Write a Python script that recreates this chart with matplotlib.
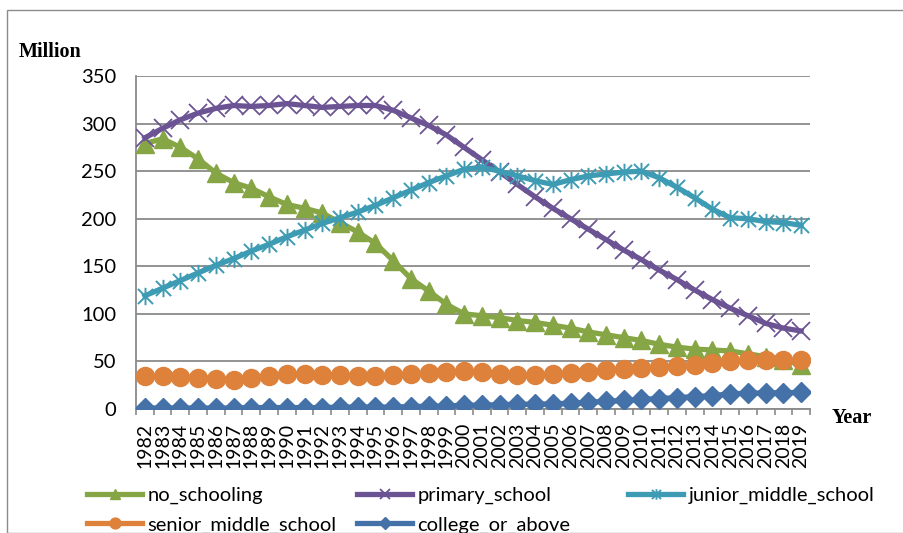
import numpy as np
import matplotlib.pyplot as plt
from matplotlib.path import Path
from matplotlib.patches import Rectangle

plt.rcParams['font.family'] = ['Lato', 'DejaVu Sans']

# population by education level, million people
years = [str(y) for y in range(1982, 2020)]

no_schooling = [279, 284, 275, 263, 248, 238, 232, 223, 215, 211, 206, 196, 186, 174,
                156, 137, 124, 110, 100, 98, 96, 93, 91, 88, 85, 81, 78, 75, 72, 68,
                65, 63, 62, 61, 58, 55, 52, 46]
primary_school = [285, 295, 304, 311, 316, 319, 318, 319, 321, 319, 317, 318, 319, 319,
                  314, 306, 298, 288, 275, 262, 249, 236, 223, 211, 200, 189, 178, 167,
                  157, 146, 136, 125, 115, 106, 98, 90, 85, 82]
junior_middle_school = [119, 127, 135, 143, 151, 158, 166, 173, 181, 188, 195, 201, 207, 214,
                        222, 230, 238, 245, 252, 254, 250, 245, 240, 236, 241, 245, 247, 249,
                        250, 243, 233, 222, 210, 201, 200, 197, 196, 193]
senior_middle_school = [35, 35, 34, 33, 32, 31, 33, 35, 37, 37, 36, 36, 35, 35,
                        36, 37, 38, 39, 40, 39, 37, 36, 36, 37, 38, 39, 41, 42,
                        43, 44, 45, 46, 48, 50, 51, 51, 51, 51]
college_or_above = [1, 1, 1, 1, 1, 1, 1.5, 1.5, 1.5, 1.5, 1.5, 2, 2, 2,
                    2, 2.5, 3, 3, 4, 4, 4.5, 5, 5, 5.5, 6, 7, 8, 9,
                    10, 11, 12, 13, 14, 16, 16.5, 17, 17, 17.5]

W, H = 904, 533
fig = plt.figure(figsize=(W / 100, H / 100), dpi=100)

# outer chart frame
fig.patches.append(Rectangle((7 / W, 0), 1.2, 1 - 10 / H, transform=fig.transFigure,
                             fill=False, edgecolor='#8c8c8c', linewidth=1.0))

ax = fig.add_axes([136 / W, 1 - 409 / H, (810 - 136) / W, (409 - 76) / H])

# asterisk marker: an X with a vertical bar
aster = Path([(-1, -1), (1, 1), (-1, 1), (1, -1), (0, -1.15), (0, 1.15)],
             [Path.MOVETO, Path.LINETO] * 3)

x = np.arange(len(years))
lw = 3.8
l1, = ax.plot(x, no_schooling, color='#86A544', lw=lw, marker='^', ms=13,
              mec='#86A544', label='no_schooling', zorder=3)
l2, = ax.plot(x, primary_school, color='#6C5494', lw=lw, marker='x', ms=12.5,
              mew=1.3, label='primary_school', zorder=4)
l3, = ax.plot(x, junior_middle_school, color='#3D9BB3', lw=lw, marker=aster, ms=12.5,
              mew=1.4, label='junior_middle_school', zorder=5)
l4, = ax.plot(x, senior_middle_school, color='#DD813B', lw=lw, marker='o', ms=13,
              label='senior_middle_school', zorder=6)
l5, = ax.plot(x, college_or_above, color='#4371A8', lw=lw, marker='D', ms=10.5,
              label='college_or_above', zorder=7)

ax.set_xlim(-0.5, len(years) - 0.5)
ax.set_ylim(0, 350)
ax.set_yticks(range(0, 351, 50))
ax.yaxis.grid(True, color='#8a8a8a', lw=1.3)
ax.set_axisbelow(True)
for s in ['top', 'right']:
    ax.spines[s].set_visible(False)
for s in ['left', 'bottom']:
    ax.spines[s].set_color('#8a8a8a')
    ax.spines[s].set_linewidth(1.3)

ax.set_xticks(x)
ax.set_xticklabels(years, rotation=90, fontsize=14)
ax.set_xticks(np.arange(len(years) + 1) - 0.5, minor=True)
ax.tick_params(axis='x', which='major', length=0, pad=10)
ax.tick_params(axis='x', which='minor', length=4, color='#8a8a8a', width=1.2)
ax.tick_params(axis='y', length=0, pad=14, labelsize=14.5)

fig.text(19 / W, 1 - 57 / H, 'Million', family='Liberation Serif', weight='bold',
         fontsize=14.5, va='baseline')
fig.text(832 / W, 1 - 423 / H, 'Year', family='Liberation Serif', weight='bold',
         fontsize=14.5, va='baseline')

# legend laid out in three fixed columns
cols = [([l1, l4], 87), ([l2, l5], 357), ([l3], 628)]
for handles, px in cols:
    leg = fig.legend(handles=handles, loc='upper left',
                     bbox_to_anchor=(px / W, 1 - 487 / H), frameon=False,
                     fontsize=14.5, handlelength=2.75, handletextpad=0.25,
                     borderpad=0, borderaxespad=0, labelspacing=0.6,
                     markerscale=0.6, numpoints=1)

fig.savefig('out.png', dpi=100)
